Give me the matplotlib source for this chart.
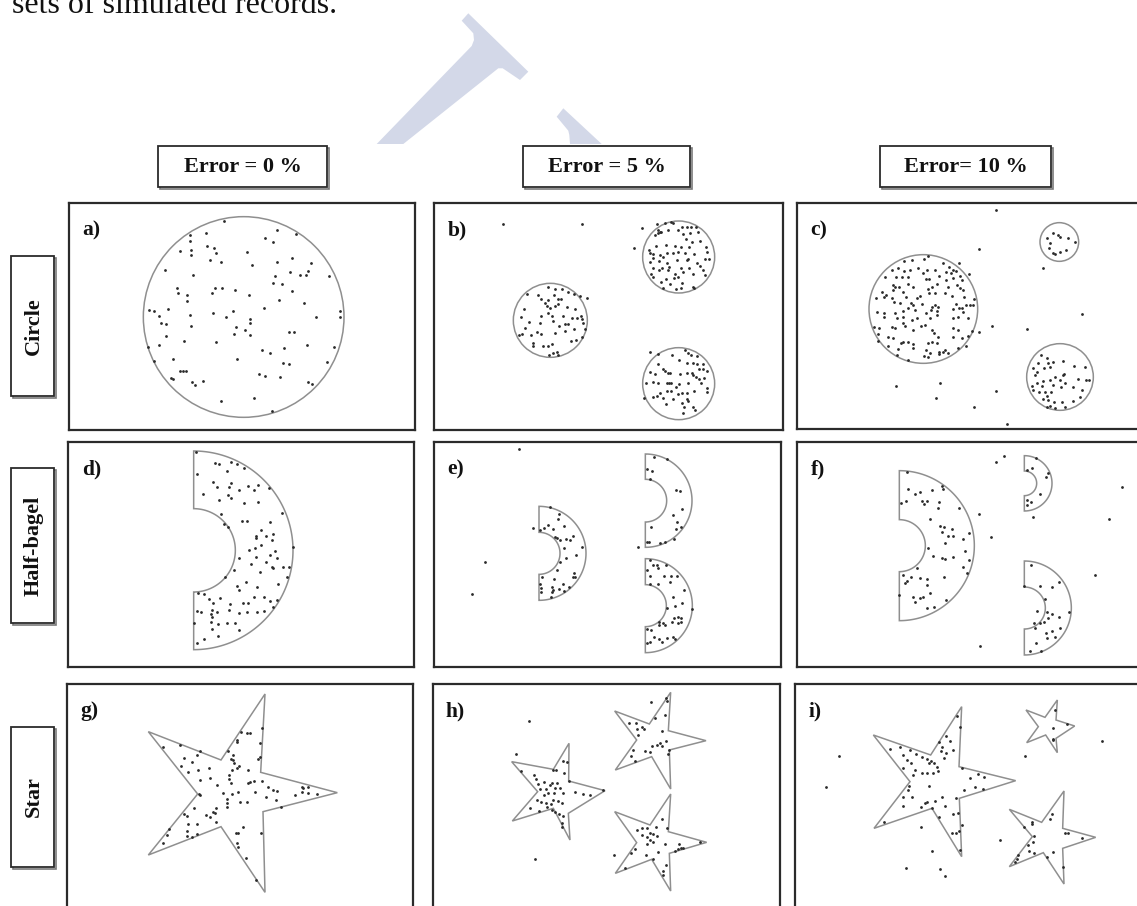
import numpy as np
import matplotlib
matplotlib.use("Agg")
import matplotlib.pyplot as plt
from matplotlib.patches import Polygon, Circle, Rectangle

# ---------------------------------------------------------------------------
# Column / row headings
col_titles = ["Error = 0 %", "Error = 5 %", "Error= 10 %"]
row_titles = ["Circle", "Half-bagel", "Star"]
panel_tags = ["a)", "b)", "c)", "d)", "e)", "f)", "g)", "h)", "i)"]
caption_tail = "sets of simulated records."

# ---------------------------------------------------------------------------
# Shapes (panel units) ------------------------------------------------------
circles_a = [(731, 381, 301)]
circles_b = [(776, 201, 108), (391, 391, 111), (776, 581, 108)]
circles_c = [(430, 357, 163), (838, 156, 58), (840, 561, 100)]

# half-bagels: (centre x, centre y, outer radius, inner radius)
bagels_d = [(581, 361, 298, 125)]
bagels_e = [(357, 370, 141, 63), (676, 212, 140, 64), (676, 527, 141, 63)]
bagels_f = [(358, 347, 225, 78), (733, 160, 83, 37), (733, 534, 141, 63)]

stars_g = [[(1012, 398), (782, 337), (795, 102), (663, 300), (445, 215),
            (593, 402), (445, 585), (663, 500), (795, 697), (789, 455)]]
stars_h = [[(555, 392), (446, 363), (447, 250), (400, 328), (275, 305),
            (353, 395), (277, 483), (400, 445), (450, 540), (445, 460)],
           [(858, 242), (745, 212), (752, 97), (688, 192), (584, 153),
            (650, 240), (586, 330), (695, 290), (752, 387), (748, 270)],
           [(860, 547), (745, 515), (752, 402), (690, 495), (584, 455),
            (650, 548), (586, 640), (695, 598), (752, 693), (748, 580)]]
stars_i = [[(707, 362), (537, 320), (545, 140), (452, 285), (280, 225),
            (390, 365), (282, 505), (456, 445), (545, 590), (538, 415)],
           [(884, 198), (828, 180), (832, 120), (795, 172), (738, 150),
            (775, 200), (740, 248), (797, 225), (832, 278), (828, 235)],
           [(947, 532), (848, 505), (852, 393), (785, 487), (688, 448),
            (757, 530), (688, 620), (790, 578), (852, 672), (848, 565)]]

# ---------------------------------------------------------------------------
# Simulated records (panel units)
records_a = [(672, 93), (571, 136), (617, 129), (830, 120), (889, 131), (571, 152), (795, 143),
             (820, 157), (621, 167), (641, 175), (540, 182), (573, 180), (648, 188), (742, 186),
             (574, 196), (631, 211), (664, 216), (875, 203), (830, 215), (933, 218), (757, 226),
             (496, 241), (924, 243), (870, 247), (900, 255), (917, 255), (986, 258), (580, 256),
             (826, 259), (818, 278), (846, 282), (532, 295), (535, 308), (645, 293), (666, 293),
             (705, 301), (636, 309), (875, 303), (561, 316), (746, 314), (562, 332), (837, 329),
             (911, 339), (448, 360), (462, 364), (505, 357), (792, 353), (638, 368), (700, 364),
             (1020, 364), (1020, 381), (478, 378), (571, 375), (677, 380), (750, 387), (750, 398),
             (948, 381), (483, 399), (498, 403), (572, 407), (708, 410), (736, 420), (702, 433),
             (750, 436), (867, 427), (883, 425), (497, 438), (553, 454), (649, 456), (477, 466),
             (922, 466), (1003, 471), (852, 474), (445, 470), (785, 481), (811, 489), (520, 506),
             (710, 507), (463, 513), (848, 519), (866, 523), (980, 517), (540, 542), (548, 543),
             (557, 543), (778, 553), (795, 559), (840, 560), (512, 564), (518, 566), (577, 577),
             (584, 586), (610, 573), (924, 577), (936, 583), (763, 625), (662, 634), (817, 663)]

records_b = [(249, 101), (487, 103), (667, 115), (643, 174), (500, 323),
             (711, 102), (735, 98), (752, 97), (760, 100), (787, 110), (800, 112), (812, 110),
             (829, 112), (713, 120), (724, 125), (745, 121), (773, 120), (790, 133), (810, 130),
             (833, 127), (704, 135), (713, 130), (720, 127), (797, 146), (815, 155), (840, 153),
             (707, 167), (737, 165), (765, 168), (783, 170), (806, 170), (857, 170), (687, 180),
             (690, 188), (700, 192), (720, 196), (740, 190), (760, 190), (775, 187), (795, 188),
             (822, 193), (860, 185), (698, 203), (730, 200), (770, 210), (800, 210), (805, 208),
             (830, 218), (856, 207), (868, 207), (690, 217), (716, 212), (742, 220), (700, 235),
             (727, 235), (747, 232), (783, 234), (808, 235), (840, 228), (850, 239), (718, 240),
             (745, 241), (765, 253), (790, 247), (820, 253), (854, 254), (693, 252), (700, 262),
             (737, 268), (762, 265), (775, 260), (722, 276), (750, 283), (785, 280), (768, 296),
             (783, 293), (820, 290), (823, 293), (730, 293),
             (320, 312), (355, 316), (384, 292), (405, 296), (425, 297), (445, 305), (462, 313),
             (480, 318), (362, 327), (374, 340), (385, 330), (402, 316), (415, 326), (424, 327),
             (380, 348), (390, 353), (404, 348), (413, 343), (440, 350), (466, 356), (312, 358),
             (363, 377), (383, 370), (395, 378), (430, 377), (455, 384), (470, 383), (484, 378),
             (487, 388), (304, 382), (328, 395), (360, 400), (400, 394), (416, 407), (436, 402),
             (443, 403), (489, 398), (315, 414), (296, 434), (334, 434), (350, 427), (362, 433),
             (404, 429), (434, 422), (462, 416), (495, 418), (307, 433), (340, 458), (369, 469),
             (385, 468), (397, 463), (452, 453), (467, 450), (485, 441), (338, 468), (400, 489),
             (410, 487), (388, 494), (413, 496),
             (690, 485), (715, 491), (756, 494), (796, 481), (803, 489), (814, 495), (830, 497),
             (848, 521), (714, 521), (728, 538), (736, 542), (745, 549), (776, 510), (800, 520),
             (819, 519), (830, 521), (837, 537), (849, 536), (860, 543), (690, 545), (705, 553),
             (751, 550), (780, 551), (800, 550), (815, 550), (820, 556), (828, 560), (838, 566),
             (853, 565), (678, 580), (700, 575), (713, 580), (740, 580), (748, 580), (754, 578),
             (768, 590), (778, 583), (803, 580), (843, 579), (860, 594), (860, 607), (720, 608),
             (742, 602), (752, 602), (773, 613), (786, 608), (800, 608), (823, 604), (700, 620),
             (712, 617), (728, 623), (760, 626), (800, 626), (805, 632), (738, 641), (785, 640),
             (818, 650), (825, 660), (793, 650), (788, 668), (672, 624)]

records_c = [(647, 60), (597, 177), (536, 220), (567, 252), (789, 235), (907, 371), (636, 409),
             (597, 427), (740, 416), (347, 587), (479, 580), (469, 623), (648, 603), (581, 650),
             (681, 702),
             (818, 130), (835, 135), (840, 140), (863, 143), (800, 145), (810, 160), (886, 157),
             (808, 175), (820, 190), (840, 185), (858, 180), (824, 193),
             (373, 212), (396, 210), (433, 207), (443, 198), (488, 220), (507, 230), (520, 240),
             (528, 243), (336, 241), (355, 234), (372, 242), (390, 240), (413, 235), (440, 240),
             (466, 240), (497, 245), (513, 250), (540, 257), (314, 262), (349, 262), (366, 262),
             (385, 261), (430, 248), (438, 268), (447, 266), (476, 257), (498, 270), (518, 265),
             (545, 270), (340, 284), (345, 292), (356, 292), (383, 282), (400, 292), (443, 296),
             (456, 291), (470, 283), (505, 290), (530, 285), (540, 295), (550, 300), (307, 305),
             (318, 316), (340, 300), (368, 305), (377, 320), (412, 325), (420, 318), (447, 308),
             (466, 310), (495, 308), (517, 318), (552, 320), (582, 328), (288, 323), (313, 322),
             (335, 325), (343, 337), (360, 340), (393, 338), (400, 345), (425, 342), (455, 350),
             (464, 345), (473, 352), (528, 342), (546, 354), (558, 345), (570, 345), (580, 346),
             (291, 365), (312, 370), (345, 370), (370, 364), (383, 354), (406, 360), (439, 368),
             (452, 360), (470, 362), (520, 357), (537, 353), (550, 365), (313, 380), (350, 385),
             (370, 382), (395, 390), (412, 383), (450, 385), (472, 375), (520, 383), (533, 380),
             (563, 385), (282, 410), (298, 415), (336, 410), (346, 415), (368, 400), (376, 408),
             (398, 420), (424, 408), (435, 405), (455, 420), (463, 430), (475, 440), (520, 415),
             (535, 420), (576, 424), (293, 432), (325, 440), (340, 445), (362, 460), (370, 455),
             (385, 455), (400, 462), (443, 458), (455, 456), (470, 460), (520, 440), (547, 445),
             (565, 438), (293, 452), (325, 468), (355, 478), (400, 475), (438, 480), (450, 490),
             (476, 485), (488, 487), (495, 480), (505, 489), (535, 475), (557, 468), (350, 495),
             (385, 511), (432, 497), (444, 500), (477, 492),
             (782, 496), (800, 503), (775, 520), (803, 520), (820, 516), (848, 514), (883, 527),
             (916, 530), (760, 534), (770, 545), (791, 533), (810, 530), (848, 556), (853, 553),
             (825, 560), (766, 555), (790, 573), (810, 570), (840, 570), (856, 580), (895, 568),
             (918, 570), (928, 570), (757, 587), (770, 580), (787, 587), (820, 584), (843, 590),
             (880, 590), (905, 600), (758, 600), (776, 605), (795, 605), (800, 617), (812, 607),
             (900, 622), (790, 627), (805, 631), (822, 636), (847, 637), (880, 633), (800, 650),
             (810, 649), (826, 653), (856, 652)]

records_d = [(588, 65), (645, 100), (657, 103), (693, 97), (711, 102), (731, 115), (681, 123),
             (590, 132), (638, 157), (692, 158), (688, 170), (716, 180), (745, 168), (763, 180),
             (775, 165), (806, 173), (652, 170), (610, 193), (685, 195), (693, 203), (656, 209),
             (732, 220), (773, 215), (846, 249), (662, 252), (672, 282), (685, 290), (727, 273),
             (741, 273), (810, 275), (783, 300), (768, 318), (769, 325), (797, 318), (818, 313),
             (816, 330), (784, 345), (748, 360), (765, 355), (825, 362), (878, 352), (718, 385),
             (768, 382), (810, 375), (830, 385), (752, 403), (797, 397), (815, 410), (820, 415),
             (850, 410), (868, 412), (702, 420), (780, 425), (860, 440), (738, 455), (833, 463),
             (712, 469), (770, 472), (675, 440), (718, 480), (594, 490), (611, 492), (627, 508),
             (660, 505), (690, 523), (728, 518), (762, 500), (793, 502), (811, 513), (830, 510),
             (745, 520), (640, 520), (590, 544), (603, 546), (637, 540), (651, 545), (634, 553),
             (688, 540), (716, 548), (740, 545), (770, 545), (793, 542), (820, 530), (637, 560),
             (633, 575), (655, 582), (680, 578), (705, 578), (581, 580), (635, 598), (718, 600),
             (653, 618), (613, 628), (590, 640)]

records_e = [(296, 57), (338, 293), (196, 397), (157, 493), (655, 352),
             (390, 232), (417, 252), (414, 268), (360, 300), (373, 293), (385, 285), (398, 298),
             (432, 288), (410, 325), (420, 330), (437, 328), (449, 330), (460, 318), (486, 352),
             (405, 320), (468, 375), (432, 355), (438, 383), (420, 395), (410, 420), (462, 428),
             (458, 440), (466, 442), (365, 441), (402, 448), (430, 462), (360, 462), (363, 473),
             (397, 472), (416, 478), (431, 483), (448, 470), (397, 487), (362, 487), (392, 500),
             (400, 480),
             (703, 82), (740, 88), (680, 118), (697, 122), (690, 148), (768, 180), (780, 183),
             (785, 237), (760, 254), (770, 276), (783, 290), (692, 290), (768, 298), (680, 335),
             (688, 337), (720, 340), (736, 337), (762, 326),
             (690, 390), (700, 404), (710, 404), (737, 404), (680, 420), (713, 413), (690, 437),
             (733, 437), (752, 437), (772, 437), (750, 455), (793, 480), (690, 463), (713, 462),
             (760, 500), (787, 520), (815, 537), (765, 527), (740, 533), (763, 565), (773, 560),
             (783, 563), (716, 575), (735, 585), (755, 577), (773, 580), (783, 577), (682, 598),
             (718, 585), (730, 580), (693, 600), (703, 620), (716, 628), (740, 623), (760, 622),
             (765, 628), (680, 640), (690, 636), (727, 637)]

records_f = [(648, 97), (672, 77), (1027, 171), (597, 251), (760, 262), (988, 268), (634, 321),
             (944, 434), (601, 647),
             (740, 120), (757, 115), (768, 85), (799, 140), (805, 130), (779, 192), (753, 215),
             (740, 224), (742, 210),
             (381, 127), (485, 167), (488, 178), (384, 176), (406, 192), (420, 185), (457, 180),
             (362, 220), (378, 213), (425, 212), (432, 222), (440, 213), (478, 217), (475, 233),
             (537, 235), (450, 268), (480, 288), (492, 292), (515, 297), (485, 307), (503, 318),
             (520, 318), (550, 327), (568, 308), (495, 340), (445, 353), (556, 363), (460, 378),
             (485, 385), (495, 388), (520, 380), (566, 390), (548, 410), (368, 435), (392, 442),
             (420, 443), (440, 446), (380, 452), (375, 458), (442, 465), (492, 440), (560, 430),
             (358, 495), (400, 500), (420, 503), (430, 502), (405, 515), (450, 488), (497, 510),
             (462, 530), (440, 535), (412, 413),
             (752, 405), (780, 468), (815, 470), (838, 457), (795, 507), (733, 468), (770, 544),
             (800, 545), (815, 552), (803, 563), (838, 560), (868, 545), (763, 580), (780, 580),
             (793, 575), (765, 595), (797, 610), (815, 604), (840, 595), (768, 640), (800, 625),
             (825, 620), (750, 662), (783, 662)]

records_g = [(490, 262), (540, 255), (600, 273), (553, 293), (575, 307), (590, 285), (543, 318),
             (563, 335), (593, 330), (627, 323), (600, 360), (630, 355), (652, 375), (600, 405),
             (597, 403), (583, 445), (553, 463), (560, 468), (618, 466), (630, 470), (645, 460),
             (648, 485), (565, 492), (590, 493), (508, 508), (500, 525), (560, 512), (575, 530),
             (590, 522), (560, 528), (490, 550), (708, 518), (713, 520), (712, 548), (713, 560),
             (738, 595), (769, 660), (730, 500), (783, 520), (722, 215), (740, 218), (750, 218),
             (712, 240), (712, 245), (785, 203), (780, 250), (683, 273), (700, 285), (692, 297),
             (700, 300), (703, 310), (710, 325), (718, 318), (695, 330), (688, 345), (686, 358),
             (693, 370), (668, 400), (680, 418), (680, 430), (697, 402), (715, 397), (720, 425),
             (740, 427), (745, 370), (750, 367), (763, 362), (785, 363), (765, 395), (745, 330),
             (805, 380), (820, 390), (830, 393), (798, 410), (828, 420), (843, 440), (885, 405),
             (905, 380), (905, 395), (910, 385), (925, 380), (925, 400), (952, 403), (780, 292),
             (775, 297), (648, 445), (640, 455), (680, 440)]

records_h = [(327, 184), (288, 281), (345, 597), (582, 585), (692, 125),
             (303, 333), (343, 346), (347, 356), (400, 330), (408, 330), (428, 303), (440, 305),
             (431, 338), (372, 365), (397, 368), (411, 368), (390, 375), (353, 372), (360, 388),
             (378, 387), (385, 398), (404, 383), (420, 383), (372, 405), (403, 400), (430, 400),
             (465, 397), (490, 402), (510, 405), (548, 390), (448, 363), (350, 420), (363, 425),
             (378, 430), (393, 433), (400, 420), (415, 423), (425, 430), (330, 443), (356, 452),
             (380, 442), (397, 450), (405, 455), (418, 463), (428, 468), (425, 488), (426, 500),
             (738, 115), (740, 122), (706, 175), (734, 165), (627, 190), (648, 188), (650, 207),
             (667, 202), (673, 208), (654, 225), (726, 212), (697, 258), (710, 255), (725, 258),
             (738, 242), (720, 250), (640, 270), (675, 272), (690, 275), (744, 282), (748, 270),
             (632, 287), (645, 303),
             (727, 478), (708, 500), (740, 505), (650, 510), (667, 505), (680, 505), (690, 520),
             (700, 522), (712, 527), (665, 525), (680, 532), (690, 540), (698, 545), (680, 552),
             (736, 552), (777, 552), (775, 568), (765, 572), (782, 565), (790, 563), (840, 547),
             (645, 567), (713, 577), (677, 585), (700, 598), (738, 615), (728, 632), (728, 645),
             (616, 625), (632, 580)]

records_i = [(176, 287), (137, 381), (735, 288), (967, 244), (660, 540), (424, 502), (455, 572),
             (377, 623), (480, 628), (495, 648),
             (825, 150), (862, 193), (818, 205), (818, 237), (820, 240),
             (532, 167), (540, 202), (476, 245), (497, 228), (511, 244), (485, 262), (484, 273),
             (497, 278), (520, 270), (330, 268), (360, 262), (390, 270), (407, 282), (425, 290),
             (370, 285), (380, 300), (392, 310), (440, 297), (448, 310), (452, 303), (463, 310),
             (470, 320), (474, 332), (368, 323), (405, 330), (426, 340), (440, 340), (460, 340),
             (493, 295), (398, 345), (545, 325), (570, 355), (593, 342), (613, 352), (387, 378),
             (385, 390), (448, 378), (553, 390), (585, 380), (608, 388), (370, 412), (397, 412),
             (440, 427), (465, 422), (485, 412), (527, 415), (436, 430), (424, 440), (496, 437),
             (370, 438), (455, 445), (520, 462), (535, 460), (478, 470), (312, 485), (547, 495),
             (537, 512), (527, 518), (515, 520), (540, 570),
             (815, 462), (810, 478), (757, 487), (757, 492), (733, 500), (762, 527), (760, 545),
             (745, 555), (746, 573), (763, 578), (820, 577), (800, 592), (713, 585), (710, 597),
             (705, 607), (855, 518), (865, 520), (905, 533), (848, 622)]

# ---------------------------------------------------------------------------
W, H = 1137, 906
fig = plt.figure(figsize=(W / 100, H / 100), dpi=100)
fig.patch.set_facecolor("white")

SERIF = ["Liberation Serif", "DejaVu Serif"]
EDGE = "#2b2b2b"
OUTLINE = "#8f8f8f"
DOT = "#2a2a2a"

# full-figure layer in pixel units for the frame boxes and headings
base = fig.add_axes([0, 0, 1, 1], zorder=0)
base.set_xlim(0, W)
base.set_ylim(H, 0)
base.axis("off")

# faint publisher mark behind the heading row
mark_1 = [(461.7, 20.7), (468.3, 13.3), (528.3, 71.7), (520, 80), (502.7, 68.3),
          (498.3, 68.3), (403.3, 144), (376.7, 144), (471.7, 46), (474, 40), (473.3, 33.3)]
mark_2 = [(556.7, 116.7), (563.3, 108.3), (601.7, 144), (570, 144), (569.3, 135), (568.3, 130.7)]
for m in (mark_1, mark_2):
    base.add_patch(Polygon(m, closed=True, facecolor="#d3d8e8", edgecolor="none"))

base.text(12, 13, caption_tail, family=SERIF, fontsize=23, va="baseline", ha="left",
          color="#111")


def framed_box(x0, y0, x1, y1):
    # thin drop shadow on the lower and right sides
    base.add_patch(Rectangle((x0 + 1.5, y0 + 1.5), x1 - x0, y1 - y0, facecolor="none",
                             edgecolor="#7a7a7a", lw=1.2))
    base.add_patch(Rectangle((x0, y0), x1 - x0, y1 - y0, facecolor="white",
                             edgecolor=EDGE, lw=1.3))


header_boxes = [(158, 146, 327, 187), (523, 146, 690, 187), (880, 146, 1051, 187)]
for (x0, y0, x1, y1), t in zip(header_boxes, col_titles):
    framed_box(x0, y0, x1, y1)
    base.text((x0 + x1) / 2, (y0 + y1) / 2 + 1, t, family=SERIF, weight="bold",
              fontsize=16, ha="center", va="center", color="#111")

side_boxes = [(11, 256, 54, 396), (11, 468, 54, 623), (11, 727, 54, 867)]
for (x0, y0, x1, y1), t in zip(side_boxes, row_titles):
    framed_box(x0, y0, x1, y1)
    base.text((x0 + x1) / 2 + 1, (y0 + y1) / 2, t, family=SERIF, weight="bold",
              fontsize=16, ha="center", va="center", rotation=90, color="#111")

# ---------------------------------------------------------------------------
# panel frames: (origin in pixels, frame extent in panel units)
panel_frames = [((0, 190), (207, 40, 1245, 720)),
                ((420, 190), (42, 40, 1088, 720)),
                ((780, 190), (52, 40, 1110, 718)),
                ((0, 430), (205, 37, 1243, 712)),
                ((420, 430), (42, 37, 1083, 710)),
                ((780, 430), (52, 37, 1110, 712)),
                ((0, 660), (200, 72, 1238, 800)),
                ((420, 660), (38, 72, 1080, 800)),
                ((780, 660), (45, 72, 1110, 800))]


def panel_axes(origin, box):
    ox, oy = origin
    zx0, zy0, zx1, zy1 = box
    x0, x1 = ox + zx0 / 3, ox + zx1 / 3
    y0, y1 = oy + zy0 / 3, oy + zy1 / 3
    ax = fig.add_axes([x0 / W, 1 - y1 / H, (x1 - x0) / W, (y1 - y0) / H], zorder=2)
    ax.set_xlim(zx0, zx1)
    ax.set_ylim(zy1, zy0)
    ax.set_xticks([])
    ax.set_yticks([])
    for s in ax.spines.values():
        s.set_linewidth(1.6)
        s.set_color(EDGE)
    return ax


def half_bagel(cx, cy, R, r):
    t = np.linspace(-np.pi / 2, np.pi / 2, 160)
    outer = np.c_[cx + R * np.cos(t), cy + R * np.sin(t)]
    inner = np.c_[cx + r * np.cos(t[::-1]), cy + r * np.sin(t[::-1])]
    return np.vstack([outer, inner])


shape_sets = [("circle", circles_a), ("circle", circles_b), ("circle", circles_c),
              ("bagel", bagels_d), ("bagel", bagels_e), ("bagel", bagels_f),
              ("star", stars_g), ("star", stars_h), ("star", stars_i)]
record_sets = [records_a, records_b, records_c, records_d, records_e, records_f,
               records_g, records_h, records_i]

for k, ((origin, box), (kind, shapes), recs, tag) in enumerate(
        zip(panel_frames, shape_sets, record_sets, panel_tags)):
    ax = panel_axes(origin, box)
    for sh in shapes:
        if kind == "circle":
            cx, cy, r = sh
            patch = Circle((cx, cy), r, facecolor="none", edgecolor=OUTLINE, lw=1.1)
        elif kind == "bagel":
            patch = Polygon(half_bagel(*sh), closed=True, facecolor="none",
                            edgecolor=OUTLINE, lw=1.1)
        else:
            patch = Polygon(sh, closed=True, facecolor="none", edgecolor=OUTLINE,
                            lw=1.1, joinstyle="miter")
        ax.add_patch(patch)
    pts = np.array(recs, dtype=float)
    ax.scatter(pts[:, 0], pts[:, 1], s=4, c=DOT, linewidths=0, zorder=3)
    # panel tag in the upper-left corner
    ax.text(box[0] + 40, box[1] + 96, tag, family=SERIF, weight="bold", fontsize=15.5,
            ha="left", va="baseline", color="#111")

fig.savefig("out.png", dpi=100, facecolor="white")
